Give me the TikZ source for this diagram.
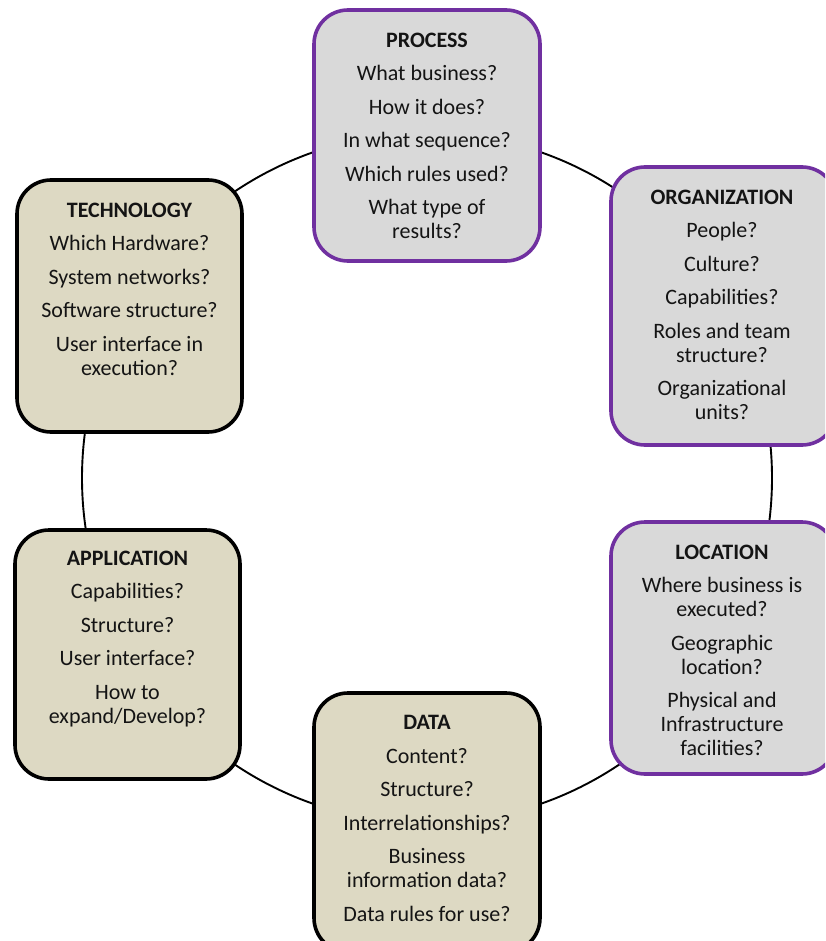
\documentclass[tikz,border=0pt]{standalone}
\usepackage{fontspec}
\setmainfont{Carlito}
\definecolor{purpleedge}{HTML}{7030A0}
\definecolor{greyfill}{HTML}{D9D9D9}
\definecolor{tanfill}{HTML}{DDD9C3}
\definecolor{inktext}{HTML}{141414}
\begin{document}
\begin{tikzpicture}[x=1pt,y=-1pt,
  box/.style={draw, line width=3.6pt, rounded corners=34pt, inner sep=0pt},
  bizbox/.style={box, draw=purpleedge, fill=greyfill},
  techbox/.style={box, draw=black, fill=tanfill},
  boxtext/.style={anchor=north, align=center, inner sep=0pt, text=inktext,
    font=\fontsize{22}{24}\selectfont},
  ring/.style={draw=black, line width=1.9pt}
]
\useasboundingbox (0,0) rectangle (825,941);
\clip (0,0) rectangle (825,941);

% ring that links the six viewpoints
\coordinate (hub) at (427,478);
\draw[ring] (hub) circle[radius=345pt];

% boxes
\path[bizbox] (314,10) rectangle (540,261) node[midway] (processbox) {};
\path[bizbox] (611,167) rectangle (836,445) node[midway] (orgbox) {};
\path[bizbox] (611,522) rectangle (836,774) node[midway] (locbox) {};
\path[techbox] (314,693) rectangle (540,952) node[midway] (databox) {};
\path[techbox] (15,530) rectangle (240,779) node[midway] (appbox) {};
\path[techbox] (17,180) rectangle (242,432) node[midway] (techbox) {};

% texts
\node[boxtext] (processtxt) at (427,32.5) {\textbf{PROCESS}\\[9.5pt]
  What business?\\[9.5pt] How it does?\\[9.5pt] In what sequence?\\[9.5pt]
  Which rules used?\\[9.5pt] What type of\\ results?};
\node[boxtext] (orgtxt) at (722,189.5) {\textbf{ORGANIZATION}\\[9.5pt]
  People?\\[9.5pt] Culture?\\[9.5pt] Capabilities?\\[9.5pt]
  Roles and team\\ structure?\\[9.5pt] Organizational\\ units?};
\node[boxtext] (loctxt) at (722,544.5) {\textbf{LOCATION}\\[9.5pt]
  Where business is\\ executed?\\[9.5pt] Geographic\\ location?\\[9.5pt]
  Physical and\\ Infrastructure\\ facilities?};
\node[boxtext] (datatxt) at (427,715.5) {\textbf{DATA}\\[9.5pt]
  Content?\\[9.5pt] Structure?\\[9.5pt] Interrelationships?\\[9.5pt]
  Business\\ information data?\\[9.5pt] Data rules for use?};
\node[boxtext] (apptxt) at (127.5,550.5) {\textbf{APPLICATION}\\[9.5pt]
  Capabilities?\\[9.5pt] Structure?\\[9.5pt] User interface?\\[9.5pt]
  How to\\ expand/Develop?};
\node[boxtext] (techtxt) at (129.5,202.5) {\textbf{TECHNOLOGY}\\[9.5pt]
  Which Hardware?\\[9.5pt] System networks?\\[9.5pt] Software structure?\\[9.5pt]
  User interface in\\ execution?};
\end{tikzpicture}
\end{document}
